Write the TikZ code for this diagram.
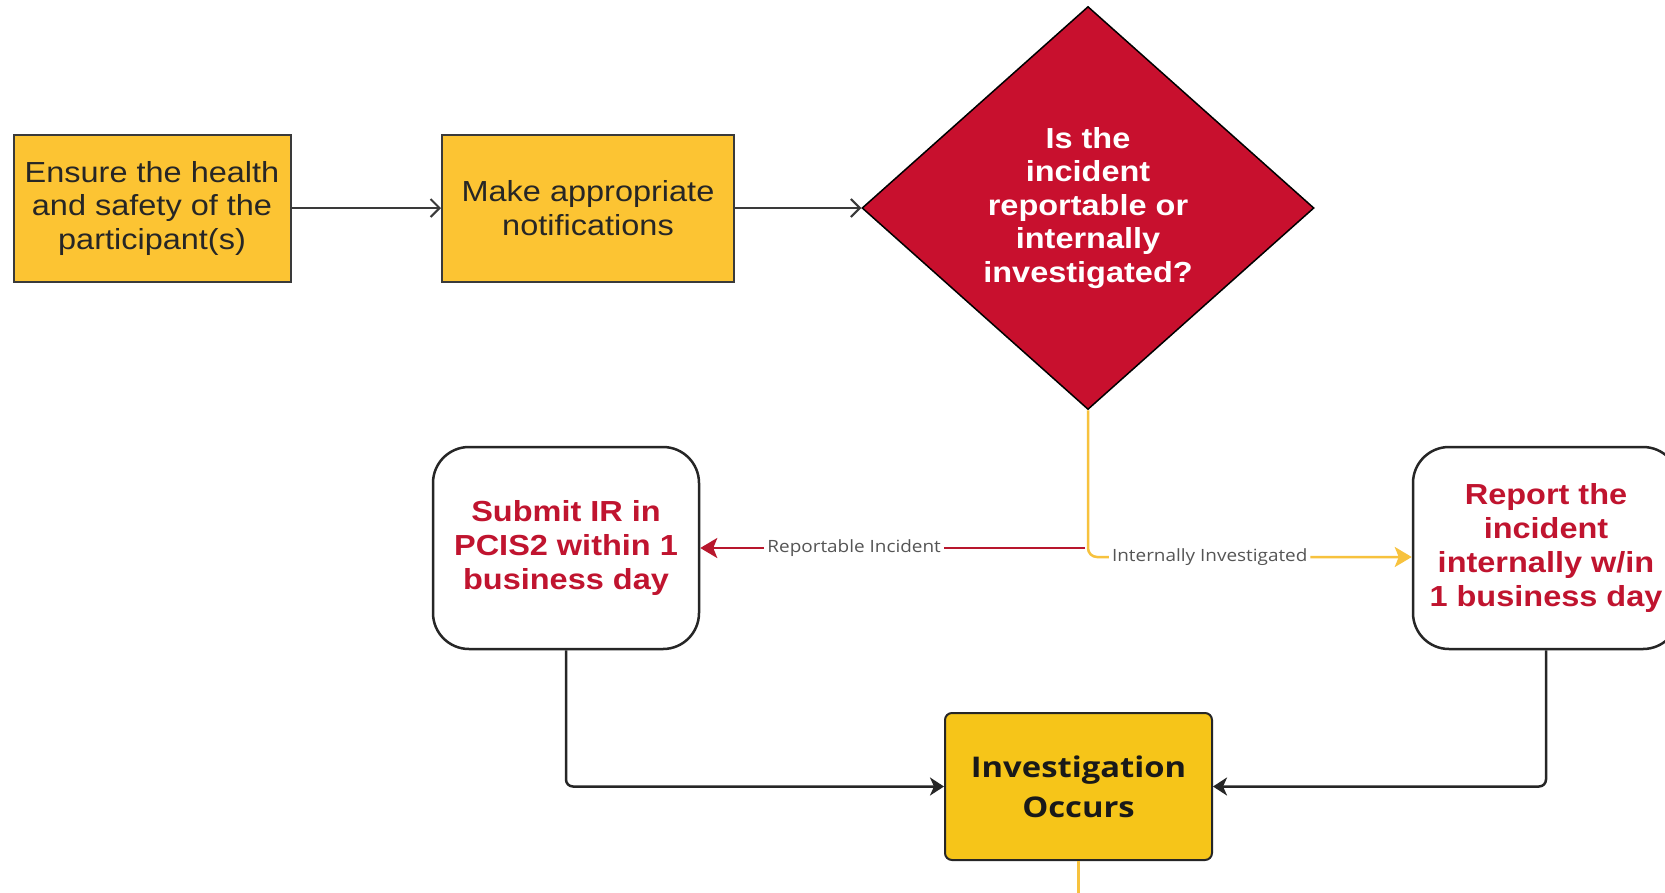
\documentclass[tikz,border=0pt]{standalone}
\usepackage{fontspec}
\usetikzlibrary{shapes.geometric,arrows.meta}
\newfontfamily\arialf[FakeStretch=1.12]{Liberation Sans}
\newfontfamily\osans[FakeStretch=1.12]{Open Sans}
\newfontfamily\osansw[FakeStretch=1.15]{Open Sans}
\definecolor{boxyellow}{HTML}{FCC433}
\definecolor{invyellow}{HTML}{F6C519}
\definecolor{diared}{HTML}{C8102E}
\definecolor{redtext}{HTML}{C0142F}
\definecolor{redline}{HTML}{B8172D}
\definecolor{yline}{HTML}{F7C23E}
\definecolor{edgegray}{HTML}{3A3A3A}
\definecolor{labelgray}{HTML}{555555}
\begin{document}
\begin{tikzpicture}[x=1pt,y=-1pt,
  stepbox/.style={draw=edgegray, line width=2pt, fill=boxyellow, minimum height=147pt,
    inner sep=0pt, align=center, text=black!85,
    font=\arialf\fontsize{29}{33.5}\selectfont},
  roundbox/.style={draw=black!85, line width=2.5pt, fill=white, rounded corners=36pt,
    minimum width=266pt, minimum height=202pt, inner sep=0pt, align=center, text=redtext,
    font=\arialf\bfseries\fontsize{29}{34}\selectfont},
  invbox/.style={draw=black!85, line width=2pt, fill=invyellow, rounded corners=7pt,
    minimum width=267pt, minimum height=147pt, inner sep=0pt, align=center, text=black!90,
    font=\osansw\bfseries\fontsize{28.5}{40}\selectfont},
  decision/.style={diamond, draw=black, line width=1.5pt, fill=diared, aspect=1.12,
    minimum width=452pt, minimum height=403pt, inner sep=0pt, align=center, text=white,
    font=\arialf\bfseries\fontsize{29}{33.5}\selectfont},
  lbl/.style={fill=white, inner sep=3pt, text=labelgray,
    font=\osans\fontsize{16.9}{20}\selectfont},
  garrow/.style={draw=edgegray, line width=2pt, -{Straight Barb[length=9pt,width=18pt]}},
  rarrow/.style={draw=redline, line width=2.5pt, -{Stealth[length=17pt,width=20pt,inset=4pt]}},
  yarrow/.style={draw=yline, line width=2.5pt, rounded corners=9pt, -{Stealth[length=17pt,width=20pt,inset=4pt]}},
  barrow/.style={draw=black!85, line width=2.5pt, rounded corners=7pt, -{Stealth[length=14pt,width=18pt,inset=4pt]}},
  yplain/.style={draw=yline, line width=2.5pt}
]
\path[use as bounding box, clip] (0,0) rectangle (1665,892);
\fill[white] (0,0) rectangle (1665,892);

\node[stepbox, minimum width=277pt] (b1) at (152,208) {Ensure the health\\and safety of the\\participant(s)};
\node[stepbox, minimum width=292pt] (b2) at (588,208) {Make appropriate\\notifications};
\node[decision] (dia) at (1088,208) {Is the\\incident\\reportable or\\internally\\investigated?};
\node[roundbox] (lbox) at (566,548) {Submit IR in\\PCIS2 within 1\\business day};
\node[roundbox] (rbox) at (1546,548) {Report the\\incident\\internally w/in\\1 business day};
\node[invbox] (inv) at (1078.5,786.5) {Investigation\\Occurs};

\coordinate (ytarget) at ([yshift=-9pt]rbox.west);
\coordinate (bend) at (1079,900);

\draw[garrow] (b1.east) -- (b2.west);
\draw[garrow] (b2.east) -- (dia.west);

\draw[rarrow] ([xshift=-3pt]dia.south |- lbox.east) -- node[lbl, pos=0.6] (lrep) {Reportable Incident} (lbox.east);
\draw[yarrow] (dia.south) |- node[lbl, pos=0.688] (lint) {Internally Investigated} (ytarget);

\draw[barrow] (lbox.south) |- (inv.west);
\draw[barrow] (rbox.south) |- (inv.east);
\draw[yplain] (inv.south) -- (inv.south |- bend);
\end{tikzpicture}
\end{document}
